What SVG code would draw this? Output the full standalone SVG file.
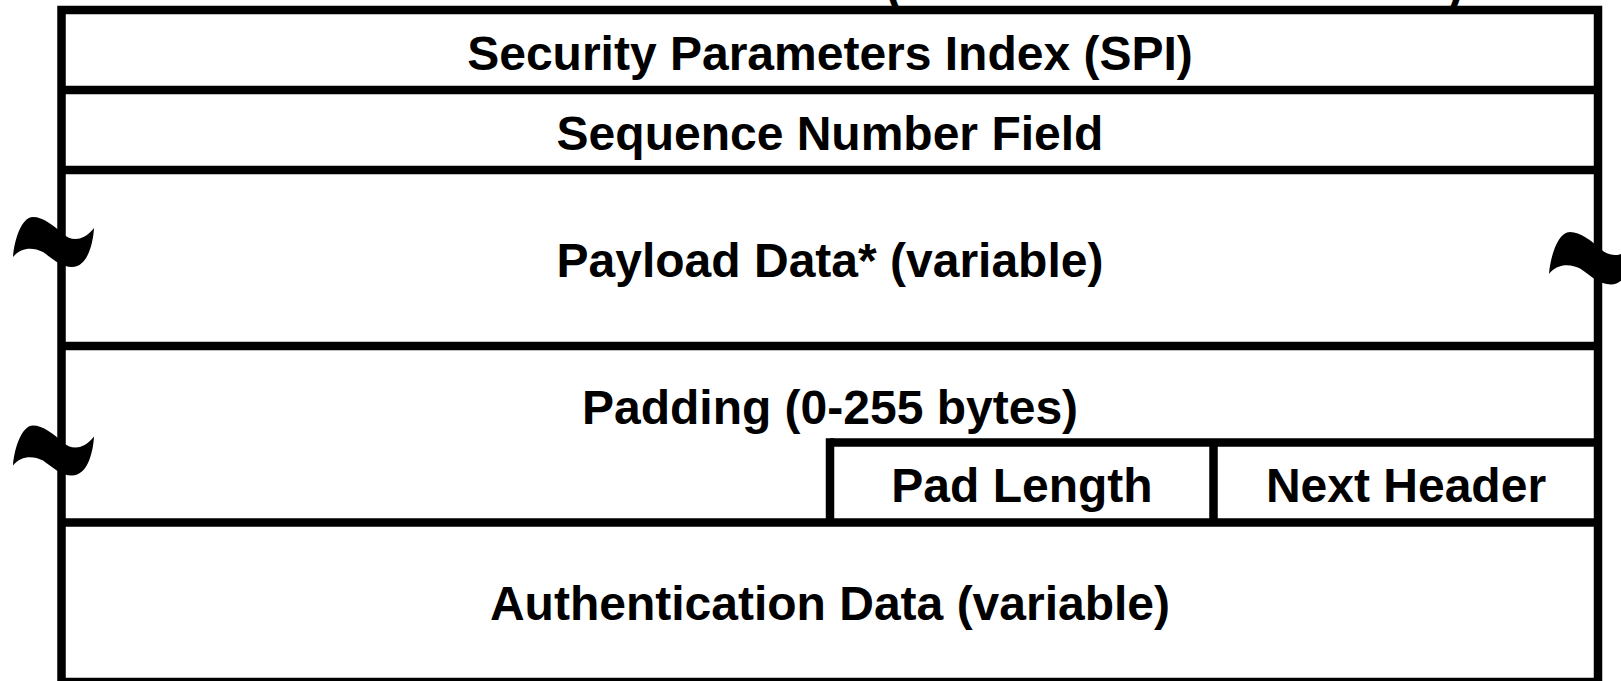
<svg xmlns="http://www.w3.org/2000/svg" width="1621" height="681" viewBox="0 0 1621 681">
  <defs>
    <style>
      .ln { stroke: #000; stroke-width: 8.5; fill: none; }
      .lbl { font-family: "Liberation Sans", Arial, sans-serif; font-weight: bold; font-size: 48px; fill: #000; text-anchor: middle; }
      .par { font-family: "Liberation Sans", Arial, sans-serif; font-weight: bold; font-size: 48px; fill: #000; }
      .tilde { fill: #000; stroke: none; }
    </style>
    <path id="brk" d="M0,40 C1,25 8,0 20,0 C30,0 40,8 50,17 C58,24 70,25 81,11 C80,28 74,50 59,50 C48,50 40,42 30,35 C20,30 8,30 0,40 Z"/>
  </defs>
  <rect x="0" y="0" width="1621" height="681" fill="#fff"/>

  <g id="cropped-parens">
    <text class="par" x="886" y="2">(</text>
    <text class="par" x="1447" y="2">)</text>
  </g>

  <g id="frame">
    <rect class="ln" x="61.5" y="10" width="1536.5" height="672" fill="#fff"/>
  </g>

  <g id="spi">
    <text class="lbl" x="830" y="69.5">Security Parameters Index (SPI)</text>
  </g>
  <g id="seq">
    <line class="ln" x1="61.5" y1="90" x2="1598" y2="90"/>
    <text class="lbl" x="830" y="149.5">Sequence Number Field</text>
  </g>
  <g id="payload">
    <line class="ln" x1="61.5" y1="170" x2="1598" y2="170"/>
    <text class="lbl" x="830" y="277">Payload Data* (variable)</text>
  </g>
  <g id="padding">
    <line class="ln" x1="61.5" y1="346" x2="1598" y2="346"/>
    <text class="lbl" x="830" y="424">Padding (0-255 bytes)</text>
  </g>
  <g id="padlength">
    <line class="ln" x1="830" y1="442.5" x2="1598" y2="442.5"/>
    <line class="ln" x1="830" y1="438.25" x2="830" y2="522.5"/>
    <text class="lbl" x="1022" y="502">Pad Length</text>
  </g>
  <g id="nextheader">
    <line class="ln" x1="1213.5" y1="442.5" x2="1213.5" y2="522.5"/>
    <text class="lbl" x="1406" y="502">Next Header</text>
  </g>
  <g id="auth">
    <line class="ln" x1="61.5" y1="522.5" x2="1598" y2="522.5"/>
    <text class="lbl" x="830" y="620">Authentication Data (variable)</text>
  </g>

  <g id="breaks">
    <use href="#brk" class="tilde" transform="translate(13,217)"/>
    <use href="#brk" class="tilde" transform="translate(13,425.5)"/>
    <use href="#brk" class="tilde" transform="translate(1549,232) scale(1.05)"/>
  </g>
</svg>
